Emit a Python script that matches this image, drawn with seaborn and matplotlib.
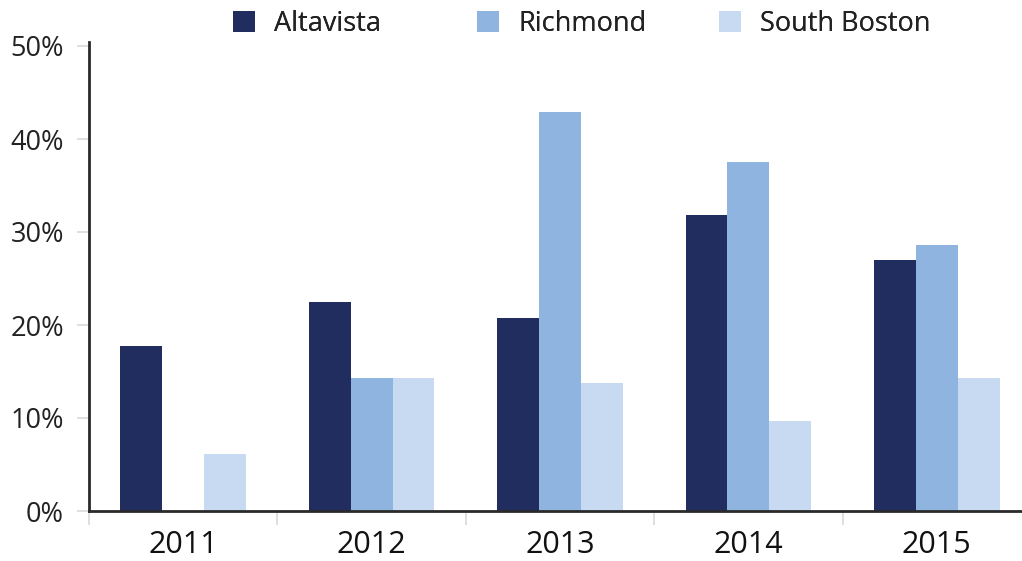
import matplotlib
matplotlib.use("Agg")
import matplotlib.pyplot as plt
import seaborn as sns
import pandas as pd
import numpy as np
from matplotlib.ticker import FixedLocator, FuncFormatter

# Share by year for each site (percent)
years = ["2011", "2012", "2013", "2014", "2015"]
altavista = [17.7, 22.5, 20.7, 31.8, 27.0]
richmond = [0.0, 14.3, 42.9, 37.5, 28.6]
south_boston = [6.1, 14.3, 13.8, 9.7, 14.3]
series_names = ["Altavista", "Richmond", "South Boston"]
palette = ["#212d5e", "#8fb4e0", "#c7daf2"]

df = pd.DataFrame({
    "year": years * 3,
    "value": altavista + richmond + south_boston,
    "site": [s for s in series_names for _ in years],
})

sns.set_theme(style="white")
plt.rcParams["font.family"] = ["Open Sans", "DejaVu Sans"]

fig = plt.figure(figsize=(10.22, 5.61), dpi=100)
W, H = 1022, 561
left, right = 89, 1031
top, bottom = 46, 511
ax = fig.add_axes([left / W, 1 - bottom / H, (right - left) / W, (bottom - top) / H])

sns.barplot(data=df, x="year", y="value", hue="site", hue_order=series_names,
            palette=palette, width=0.667, saturation=1, linewidth=0,
            ax=ax, legend=True)

ax.set_xlim(-0.5, 4.5)
ax.set_ylim(0, 50)
ax.set_xlabel("")
ax.set_ylabel("")

ax.yaxis.set_major_locator(FixedLocator([0, 10, 20, 30, 40, 50]))
ax.yaxis.set_major_formatter(FuncFormatter(lambda v, p: f"{v:.0f}%"))
ax.tick_params(axis="y", which="major", length=9, width=1.2, color="#d9d9d9",
               labelsize=19.5, labelcolor="#222222", pad=9, left=True)
ax.tick_params(axis="x", which="major", length=0, labelsize=22,
               labelcolor="#111111", pad=14)
ax.xaxis.set_minor_locator(FixedLocator(np.arange(-0.5, 5, 1.0)))
ax.tick_params(axis="x", which="minor", length=10, width=1.2, color="#d9d9d9",
               bottom=True)

for side in ["top", "right"]:
    ax.spines[side].set_visible(False)
for side in ["left", "bottom"]:
    ax.spines[side].set_color("#2a2a2a")
    ax.spines[side].set_linewidth(2)
ax.spines["left"].set_bounds(0, 50.4)

# Legend entries laid out in equal-width slots along the top
handles, labels = ax.get_legend_handles_labels()
ax.get_legend().remove()
slot_x = [233, 477, 719]
for h, lab, x in zip(handles, labels, slot_x):
    leg = fig.legend([h], [lab], loc="center left",
                     bbox_to_anchor=(x / W, 1 - 24 / H), frameon=False,
                     fontsize=19.5, handlelength=0.82, handleheight=0.78,
                     handletextpad=0.7, borderpad=0, borderaxespad=0,
                     labelcolor="#222222")
    fig.add_artist(leg)

fig.savefig("out.png", dpi=100)
